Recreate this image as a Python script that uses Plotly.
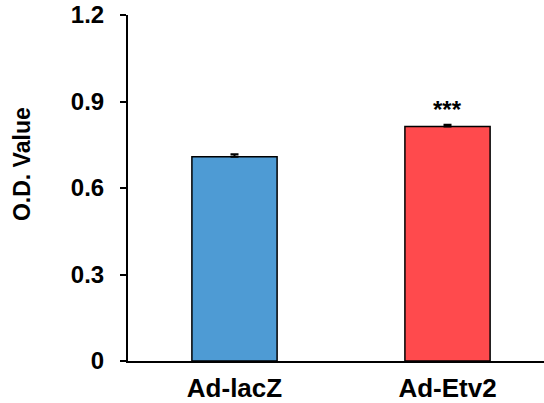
import plotly.graph_objects as go

categories = ["Ad-lacZ", "Ad-Etv2"]
values = [0.708, 0.813]
errors = [0.009, 0.006]
bar_colors = ["#4e9bd4", "#ff4a4d"]
significance = ["", "***"]
y_tick_vals = [0, 0.3, 0.6, 0.9, 1.2]
y_tick_text = ["0", "0.3", "0.6", "0.9", "1.2"]
y_title = "O.D. Value"

FONT = "Arial, 'Liberation Sans', sans-serif"

fig = go.Figure()
fig.add_trace(go.Bar(
    x=categories,
    y=values,
    width=0.4,
    marker=dict(color=bar_colors, line=dict(color="black", width=1.5)),
    error_y=dict(type="data", array=errors, arrayminus=[0] * len(errors),
                 symmetric=False, visible=True, color="black",
                 thickness=2, width=4),
    showlegend=False,
))

for c, v, e, s in zip(categories, values, errors, significance):
    if s:
        fig.add_annotation(x=c, y=v + e, text="<b>" + s + "</b>", showarrow=False,
                           yanchor="bottom", yshift=0,
                           font=dict(family=FONT, size=24, color="black"))

fig.add_annotation(xref="paper", yref="paper", x=-0.255, y=0.569,
                   text="<b>" + y_title + "</b>", textangle=-90, showarrow=False,
                   xanchor="center", yanchor="middle",
                   font=dict(family=FONT, size=23, color="black"))

fig.update_layout(
    width=544, height=403,
    margin=dict(l=128, r=0, t=15, b=42),
    plot_bgcolor="white", paper_bgcolor="white",
    font=dict(family=FONT, color="black"),
)
fig.update_xaxes(
    range=[-0.5, 1.453],
    showline=True, linecolor="black", linewidth=2,
    ticks="", showgrid=False, zeroline=False,
    ticklabelstandoff=3,
    tickfont=dict(family=FONT, size=26, color="black"),
    tickprefix="<b>", ticksuffix="</b>",
)
fig.update_yaxes(
    range=[0, 1.2],
    tickvals=y_tick_vals,
    ticktext=["<b>" + t + "</b>" for t in y_tick_text],
    showline=True, linecolor="black", linewidth=2,
    ticks="outside", ticklen=6, tickwidth=2, tickcolor="black",
    showgrid=False, zeroline=False,
    ticklabelstandoff=11,
    tickfont=dict(family=FONT, size=24, color="black"),
)

fig.write_html("out.html")
